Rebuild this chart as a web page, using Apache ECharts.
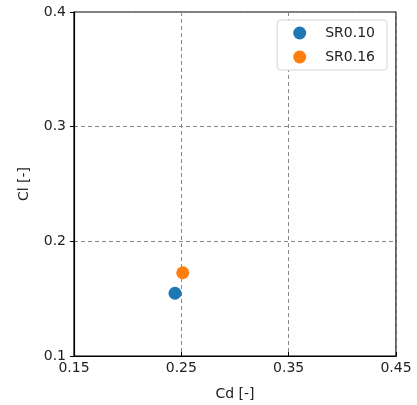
<!DOCTYPE html>
<html>
<head>
<meta charset="utf-8">
<script src="https://cdn.jsdelivr.net/npm/echarts@6/dist/echarts.min.js"></script>
<style>
  html, body { margin: 0; padding: 0; background: #fff; }
  #chart { width: 417px; height: 405px; }
</style>
</head>
<body>
<div id="chart"></div>
<script>
// data
const seriesNames = ['SR0.10', 'SR0.16']
const cdValues = [0.2441, 0.2513]
const clValues = [0.1547, 0.1726]
const colors = ['#1f77b4', '#ff7f0e']

const font = 'DejaVu Sans'

const chart = echarts.init(document.getElementById('chart'))

const gridLine = {
  show: true,
  lineStyle: { color: '#888', type: [4, 3], width: 1 }
}

chart.setOption({
  animation: false,
  textStyle: { fontFamily: font },
  grid: {
    left: 74, right: 21, top: 12, bottom: 49,
    outerBoundsMode: 'none',
    show: true, borderColor: '#000', borderWidth: 1.2
  },
  legend: {
    orient: 'vertical',
    top: 20,
    right: 30,
    itemWidth: 13,
    itemHeight: 13,
    itemGap: 10,
    icon: 'circle',
    backgroundColor: '#fff',
    borderColor: '#d5d5d5',
    borderWidth: 1,
    borderRadius: 3,
    padding: [6, 12, 6, 16],
    textStyle: { fontFamily: font, fontSize: 14, color: '#222', padding: [0, 0, 0, 14] },
    data: seriesNames
  },
  xAxis: {
    type: 'value',
    min: 0.15, max: 0.45, interval: 0.1,
    name: 'Cd [-]',
    nameLocation: 'middle',
    nameGap: 31,
    nameTextStyle: { fontFamily: font, fontSize: 14, color: '#222' },
    axisLine: { show: true, lineStyle: { color: '#000', width: 1.2 } },
    axisTick: { show: true, inside: true, length: 4, lineStyle: { color: '#000' } },
    axisLabel: { fontFamily: font, fontSize: 14, color: '#222', margin: 5, formatter: v => v.toFixed(2) },
    splitLine: gridLine
  },
  yAxis: {
    type: 'value',
    min: 0.1, max: 0.4, interval: 0.1,
    name: 'Cl [-]',
    nameLocation: 'middle',
    nameGap: 43,
    nameTextStyle: { fontFamily: font, fontSize: 14, color: '#222' },
    axisLine: { show: true, lineStyle: { color: '#000', width: 1.2 } },
    axisTick: { show: true, length: 4, lineStyle: { color: '#000' } },
    axisLabel: { fontFamily: font, fontSize: 14, color: '#222', margin: 8, formatter: v => v.toFixed(1) },
    splitLine: gridLine
  },
  series: seriesNames.map((name, i) => ({
    name,
    type: 'scatter',
    symbolSize: 13,
    itemStyle: { color: colors[i], opacity: 1 },
    data: [[cdValues[i], clValues[i]]]
  }))
})
</script>
</body>
</html>
